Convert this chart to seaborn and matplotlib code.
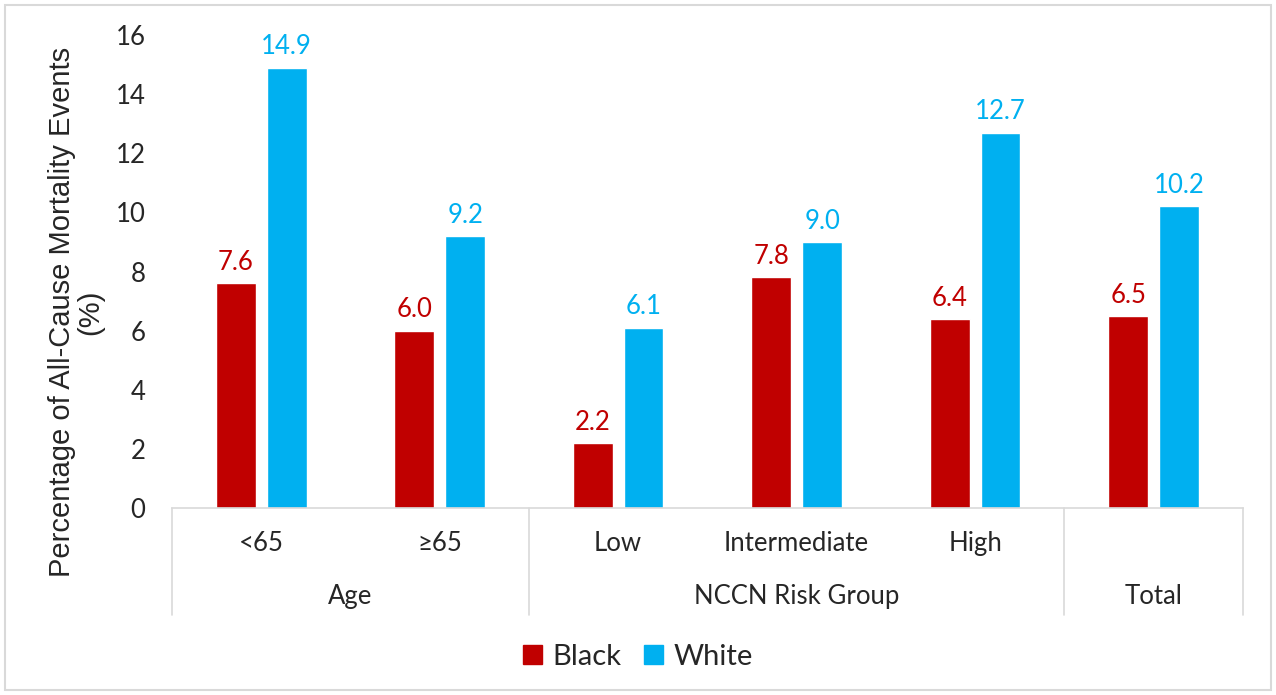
import pandas as pd
import matplotlib.pyplot as plt
import seaborn as sns
from matplotlib.patches import Rectangle

# data
categories = ['<65', '≥65', 'Low', 'Intermediate', 'High', 'Total']
tick_labels = ['<65', '≥65', 'Low', 'Intermediate', 'High', '']
groups = ['Age', 'NCCN Risk Group', 'Total']
group_spans = [(0, 1), (2, 4), (5, 5)]
black = [7.6, 6.0, 2.2, 7.8, 6.4, 6.5]
white = [14.9, 9.2, 6.1, 9.0, 12.7, 10.2]

red = '#C00000'
blue = '#00B0F0'
line_col = '#D9D9D9'

df = pd.DataFrame({
    'Category': categories * 2,
    'Race': ['Black'] * 6 + ['White'] * 6,
    'Value': black + white,
})

sns.set_style('white')
plt.rcParams['font.family'] = ['Lato', 'DejaVu Sans']

fig = plt.figure(figsize=(12.76, 6.95), dpi=100)
ax = fig.add_axes([0.1348, 0.269, 0.8392, 0.6806])

sns.barplot(data=df, x='Category', y='Value', hue='Race', order=categories,
            palette={'Black': red, 'White': blue}, width=0.57, gap=0.22,
            saturation=1, ax=ax, legend=False)

for cont, col in zip(ax.containers, [red, blue]):
    ax.bar_label(cont, fmt='%.1f', padding=6, color=col, fontsize=18.5)

ax.set_ylim(0, 16)
ax.set_yticks(range(0, 17, 2))
ax.set_xlim(-0.5, len(categories) - 0.5)
ax.tick_params(axis='y', labelsize=18.5, length=0, pad=19)
ax.set_xticks([])
ax.set_xlabel('')
ax.set_ylabel('')
ax.text(-0.0896, 0.414, 'Percentage of All-Cause Mortality Events\n(%)',
        transform=ax.transAxes, rotation=90, ha='center', va='center',
        fontsize=21, family='Liberation Sans', linespacing=1.0, multialignment='center')
for s in ['top', 'right', 'left']:
    ax.spines[s].set_visible(False)
ax.spines['bottom'].set_color(line_col)
ax.spines['bottom'].set_linewidth(1.2)

# two-level category axis
trans = ax.get_xaxis_transform()
for i, c in enumerate(tick_labels):
    ax.text(i, -0.074, c, transform=trans, ha='center', va='center', fontsize=18.5)
bounds = [-0.5]
for (a, b), g in zip(group_spans, groups):
    ax.text((a + b) / 2, -0.188, g, transform=trans, ha='center', va='center', fontsize=18.5)
    bounds.append(b + 0.5)
for b in bounds:
    ax.plot([b, b], [0, -0.226], transform=trans, color=line_col, lw=1.2, clip_on=False)

# legend
handles = [Rectangle((0, 0), 1, 1, color=red), Rectangle((0, 0), 1, 1, color=blue)]
fig.legend(handles, ['Black', 'White'], loc='center', bbox_to_anchor=(0.5, 0.055),
           ncol=2, frameon=False, fontsize=21, handlelength=0.65, handleheight=0.65,
           handletextpad=0.35, columnspacing=0.8)

# chart border
fig.add_artist(Rectangle((0.004, 0.007), 0.992, 0.986, transform=fig.transFigure,
                         fill=False, edgecolor=line_col, lw=1.5))

fig.savefig('out.png', dpi=100)
